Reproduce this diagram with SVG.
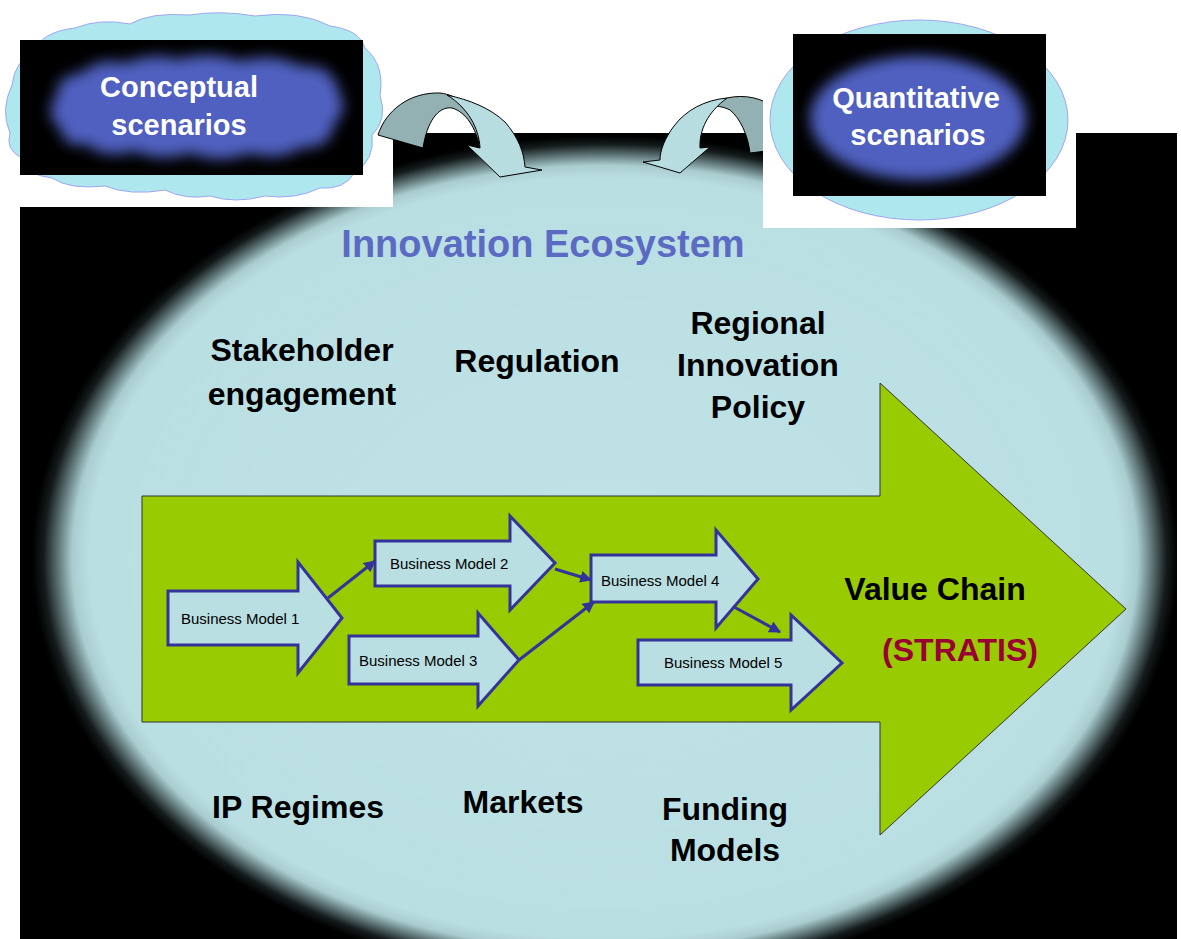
<svg xmlns="http://www.w3.org/2000/svg" width="1181" height="939" viewBox="0 0 1181 939">
<style>
.lbl{font-family:"Liberation Sans",Arial,sans-serif;font-weight:bold;font-size:32px;fill:#000;text-anchor:middle}
.sc{font-family:"Liberation Sans",Arial,sans-serif;font-weight:bold;font-size:29px;fill:#fff;text-anchor:middle}
.bm{fill:#BADFE2;stroke:#333399;stroke-width:3;stroke-linejoin:miter}
.bmt{font-family:"Liberation Sans",Arial,sans-serif;font-size:15px;fill:#000}
.con{stroke:#333399;stroke-width:3;fill:none;marker-end:url(#ah)}
.cdark{fill:#93B1B2;stroke:#000;stroke-width:1}
.clight{fill:#B8DDE0;stroke:#000;stroke-width:1}
</style>
<defs>
<radialGradient id="eco" gradientUnits="userSpaceOnUse" cx="605" cy="558" r="573" gradientTransform="translate(605 558) scale(1 0.737) translate(-605 -558)">
<stop offset="0" stop-color="#BFE2E5"/>
<stop offset="0.9" stop-color="#BADFE2"/>
<stop offset="0.93" stop-color="#A9CCCF"/>
<stop offset="0.955" stop-color="#5E7476"/>
<stop offset="0.98" stop-color="#151b1c"/>
<stop offset="1" stop-color="#000"/>
</radialGradient>
<filter id="blur" x="-20%" y="-30%" width="140%" height="160%"><feGaussianBlur stdDeviation="7"/></filter>
<marker id="ah" markerUnits="userSpaceOnUse" markerWidth="12" markerHeight="12" refX="9" refY="5" orient="auto" viewBox="0 0 10 10">
<path d="M0,0 L10,5 L0,10 z" fill="#333399"/>
</marker>
</defs>
<rect width="1181" height="939" fill="#fff"/>
<g id="ecosystem">
<rect x="20" y="133" width="1157" height="806" fill="url(#eco)"/>
</g>
<rect x="0" y="0" width="393" height="207" fill="#fff"/>
<rect x="763" y="0" width="313" height="228" fill="#fff"/>
<g id="right-curved-arrow">
<path class="cdark" d="M727,98 C745,94 762,98 775,108 L775,150 L750,153 C748,135 740,118 730,110 C722,106 716,106 713,107 Z"/>
<path class="clight" d="M727,98 C705,100 686,110 674,126 C665,138 660,150 660,160 L643,162 L680,173 L710,147 L700,148 C699,130 708,112 727,98 Z"/>
</g>
<g id="quantitative">
<rect x="763" y="0" width="313" height="228" fill="#fff"/>
<ellipse cx="919" cy="120" rx="149" ry="100" fill="#AEE8EE" stroke="#9FA6F0" stroke-width="1"/>
<rect x="793" y="34" width="253" height="162" fill="#000"/>
<ellipse cx="918" cy="118" rx="108" ry="62" fill="#5061C0" filter="url(#blur)"/>
<text class="sc" x="916" y="108">Quantitative</text>
<text class="sc" x="918" y="145">scenarios</text>
</g>
<g id="conceptual">
<path d="M10,133 Q0,110 12,85 Q15,60 35,52 Q40,32 75,28 Q100,18 130,24 Q150,12 190,15 Q220,10 255,16 Q300,10 330,26 Q360,30 365,48 Q385,65 380,95 Q388,120 372,135 Q375,160 355,172 Q345,190 320,188 Q295,200 265,196 Q235,204 210,196 Q185,200 165,190 Q130,196 105,186 Q70,190 52,178 Q25,175 22,158 Q5,150 10,133 Z" fill="#AEE8EE" stroke="#9FA6F0" stroke-width="1"/>
<rect x="20" y="40" width="343" height="135" fill="#000"/>
<path d="M62,130 Q42,115 57,96 Q55,76 82,73 Q97,57 126,63 Q150,52 180,59 Q210,50 240,61 Q275,52 300,66 Q333,64 338,90 Q350,110 333,125 Q333,148 300,148 Q280,162 250,153 Q220,165 190,153 Q160,163 135,151 Q102,160 87,144 Q62,148 62,130 Z" fill="#5061C0" filter="url(#blur)"/>
<text class="sc" x="179" y="97">Conceptual</text>
<text class="sc" x="179" y="135">scenarios</text>
</g>
<g id="left-curved-arrow">
<path class="cdark" d="M378,135 C386,110 410,92 440,93 C458,95 472,108 478,128 L480,148 C476,128 466,112 452,108 C438,106 427,122 423,148 Z"/>
<path class="clight" d="M447,95 C470,100 490,108 505,122 C518,137 524,152 525,167 L542,170 L500,177 L467,145 L480,148 C479,128 468,108 447,95 Z"/>
</g>
<text x="543" y="257" font-family="Liberation Sans, Arial, sans-serif" font-weight="bold" font-size="38" fill="#5B6BC4" text-anchor="middle">Innovation Ecosystem</text>
<g id="stakeholder"><text class="lbl" x="302" y="361">Stakeholder</text><text class="lbl" x="302" y="405">engagement</text></g>
<g id="regulation"><text class="lbl" x="537" y="372">Regulation</text></g>
<g id="regional"><text class="lbl" x="758" y="334">Regional</text><text class="lbl" x="758" y="376">Innovation</text><text class="lbl" x="758" y="418">Policy</text></g>
<g id="value-chain">
<polygon points="142,496 880,496 880,383 1126,609 880,835 880,722 142,722" fill="#99CC00" stroke="#333" stroke-width="1"/>
<text class="lbl" x="935" y="600">Value Chain</text>
<text class="lbl" x="960" y="661" style="fill:#990033">(STRATIS)</text>
</g>
<g id="bm1"><polygon class="bm" points="168,591 298,591 298,562 342,618 298,673 298,645 168,645"/><text class="bmt" x="181" y="624">Business Model 1</text></g>
<g id="bm2"><polygon class="bm" points="375,541 510,541 510,516 555,563 510,610 510,586 375,586"/><text class="bmt" x="390" y="569">Business Model 2</text></g>
<g id="bm3"><polygon class="bm" points="349,636 478,636 478,613 519,660 478,706 478,684 349,684"/><text class="bmt" x="359" y="666">Business Model 3</text></g>
<g id="bm4"><polygon class="bm" points="591,555 716,555 716,530 758,579 716,628 716,602 591,602"/><text class="bmt" x="601" y="586">Business Model 4</text></g>
<g id="bm5"><polygon class="bm" points="638,640 791,640 791,615 842,663 791,710 791,685 638,685"/><text class="bmt" x="664" y="668">Business Model 5</text></g>
<g id="connectors">
<line class="con" x1="328" y1="598" x2="375" y2="561"/>
<line class="con" x1="555" y1="569" x2="591" y2="580"/>
<line class="con" x1="519" y1="660" x2="594" y2="602"/>
<line class="con" x1="734" y1="607" x2="780" y2="632"/>
</g>
<g id="ip"><text class="lbl" x="298" y="818">IP Regimes</text></g>
<g id="markets"><text class="lbl" x="523" y="813">Markets</text></g>
<g id="funding"><text class="lbl" x="725" y="820">Funding</text><text class="lbl" x="725" y="861">Models</text></g>
</svg>
